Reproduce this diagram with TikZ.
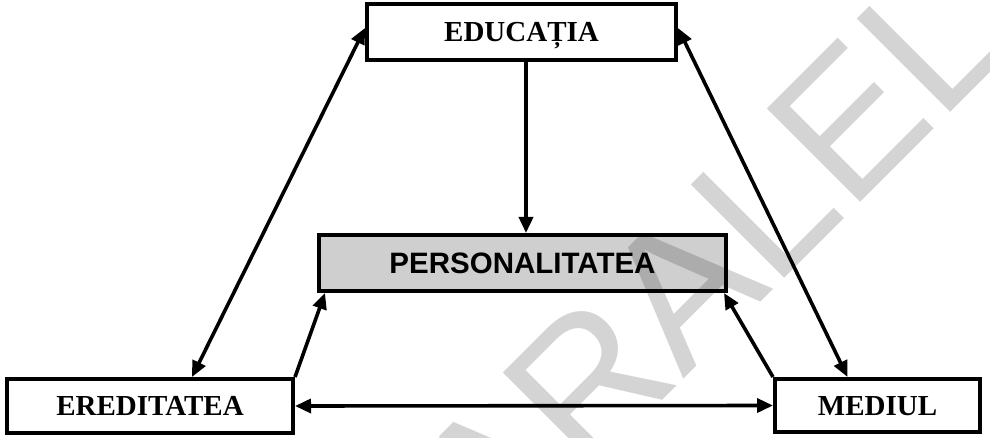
\documentclass[tikz,border=0pt]{standalone}
\usepackage{fontspec}
\setmainfont{Liberation Serif}
\newfontfamily\arialf{Liberation Sans}
\usetikzlibrary{arrows.meta}
\begin{document}
\begin{tikzpicture}[x=1pt,y=-1pt,
  box/.style={draw=black, line width=4pt, fill=white, inner sep=0pt,
    text height=19.2pt, text depth=0pt, font=\fontsize{29}{29}\selectfont\bfseries},
  graybox/.style={box, fill=black!19, text height=21.1pt,
    font=\arialf\fontsize{29.5}{29.5}\selectfont\bfseries},
  arr/.style={line width=3.6pt, -{Triangle[length=16pt,width=14pt]}},
  darr/.style={line width=3.6pt, {Triangle[length=16pt,width=14pt]}-{Triangle[length=16pt,width=14pt]}},
  watermark/.style={rotate=45, anchor=base west, inner sep=0pt, text=black,
    opacity=0.17, font=\arialf\fontsize{192}{192}\selectfont}]
\fill[white] (0,0) rectangle (990,438);
\useasboundingbox (0,0) rectangle (990,438);

\node[box, minimum width=309pt, minimum height=56pt] (edu) at (521.5,32) {EDUCAȚIA};
\node[graybox, minimum width=407pt, minimum height=56pt] (pers) at (522.5,263) {PERSONALITATEA};
\node[box, minimum width=286pt, minimum height=54pt] (ered) at (150,406) {EREDITATEA};
\node[box, minimum width=205pt, minimum height=53pt] (med) at (877.5,405.5) {MEDIUL};

\draw[arr] ([xshift=4.5pt]edu.south) -- ([xshift=4.5pt]edu.south |- pers.north);
\draw[darr] ([yshift=4pt]edu.west) -- ([xshift=42pt]ered.north);
\draw[darr] ([yshift=4pt]edu.east) -- ([xshift=-30pt]med.north);
\draw[arr] (ered.north east) -- ([xshift=8pt]pers.south west);
\draw[arr] (med.north west) -- ([xshift=-4pt]pers.south east);
\draw[darr] (ered.east) -- (med.west);

\node[watermark] (wm) at (414,649) {PARALELA 45};
\end{tikzpicture}
\end{document}
